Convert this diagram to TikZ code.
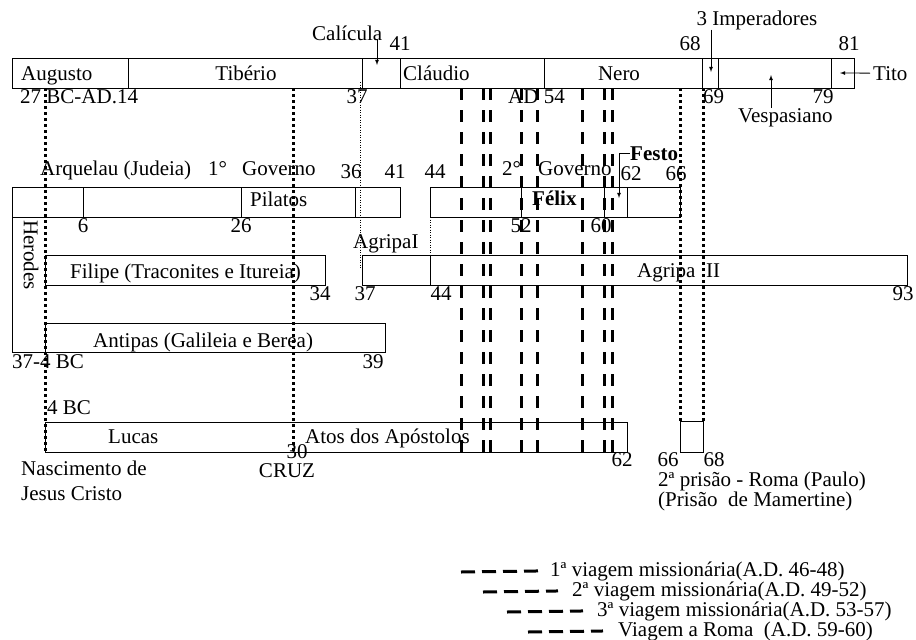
\documentclass[tikz,border=0pt]{standalone}
\usepackage{fontspec}
\setmainfont{Liberation Serif}
\begin{document}
\begin{tikzpicture}[x=1pt,y=-1pt,font=\fontsize{21}{25}\selectfont,
  every node/.style={inner sep=0pt},
  lbl/.style={anchor=base},
  lft/.style={anchor=base west},
  bar/.style={draw,line width=0.8pt},
  thickdots/.style={line width=3pt,dash pattern=on 3pt off 3pt},
  thindots/.style={line width=1pt,dash pattern=on 1pt off 1.5pt},
  trip/.style={line width=3pt,dash pattern=on 12pt off 10pt},
  legdash/.style={line width=3pt,dash pattern=on 14pt off 7pt},
  arr/.style={-latex,line width=0.8pt}]
  \useasboundingbox (0,0) rectangle (916,640);

  \draw[bar] (12,58) rectangle (854,88);
  \draw[bar] (128,58) -- (128,88);
  \draw[bar] (362,58) -- (362,88);
  \draw[bar] (400,58) -- (400,88);
  \draw[bar] (544,58) -- (544,88);
  \draw[bar] (702,58) -- (702,88);
  \draw[bar] (718,58) -- (718,88);
  \draw[bar] (831,58) -- (831,88);

  \draw[bar] (12,187) rectangle (400,217);
  \draw[bar] (83,187) -- (83,217);
  \draw[bar] (241,187) -- (241,217);
  \draw[bar] (355,187) -- (355,217);
  \draw[bar] (12,217) -- (12,352) -- (45,352);
  \draw[bar] (430,187) rectangle (680,217);
  \draw[bar] (521,187) -- (521,217);
  \draw[bar] (604,187) -- (604,217);
  \draw[bar] (627,187) -- (627,217);
  \draw[bar] (45,255) rectangle (325,285);
  \draw[bar] (362,255) rectangle (907,285);
  \draw[bar] (430,255) -- (430,285);
  \draw[bar] (45,323) rectangle (385,352);
  \draw[bar] (45,422) rectangle (627,452);
  \draw[bar] (680,421) rectangle (703,452);

  \node[lft] (calicula) at (312,40) {Calícula};
  \node[lbl] (yr41a) at (400,50) {41};
  \node[lft] (augusto) at (21,80) {Augusto};
  \node[lbl] (tiberio) at (246,80) {Tibério};
  \node[lft] (claudio) at (403,80) {Cláudio};
  \node[lbl] (nero) at (619,80) {Nero};
  \node[lbl] (imperadores) at (757,25) {3 Imperadores};
  \node[lbl] (yr68a) at (690,50) {68};
  \node[lbl] (yr81) at (849,50) {81};
  \node[lft] (tito) at (873,80) {Tito};
  \node[lft] (augdates) at (20,103) {27 BC-AD.14};
  \node[lbl] (yr37a) at (357,103) {37};
  \node[lft] (ad54) at (508,103) {AD 54};
  \node[lft] (yr69) at (703,103) {69};
  \node[lbl] (yr79) at (823,103) {79};
  \node[lft] (vespasiano) at (738,122) {Vespasiano};

  \coordinate (caliculaTip) at (377,65);
  \coordinate (imperadoresTip) at (711,72);
  \coordinate (titoTip) at (840,73);
  \coordinate (vespasianoTip) at (771,75);
  \draw[arr] (caliculaTip |- calicula.base) -- (caliculaTip);
  \draw[arr] (imperadoresTip |- imperadores.south) -- (imperadoresTip);
  \draw[arr] ([xshift=-3pt]tito.west) -- (titoTip);
  \draw[arr] (vespasianoTip |- vespasiano.north) -- (vespasianoTip);

  \node[lft] (arquelau) at (40,175) {Arquelau (Judeia)};
  \node[lft] (gov1) at (208,175) {1°};
  \node[lft] (governo1) at (242,175) {Governo};
  \node[lbl] (yr36) at (351,178) {36};
  \node[lbl] (yr41b) at (395,178) {41};
  \node[lbl] (yr44a) at (435,178) {44};
  \node[lft] (gov2) at (502,175) {2°};
  \node[lft] (governo2) at (538,175) {Governo};
  \node[lft] (festo) at (630,160) {\textbf{Festo}};
  \node[lbl] (yr62a) at (631,180) {62};
  \node[lbl] (yr66a) at (676,180) {66};
  \node[lft] (pilatos) at (250,206) {Pilatos};
  \node[lft] (felix) at (532,205) {\textbf{Félix}};
  \node[lbl] (yr6) at (83,232) {6};
  \node[lbl] (yr26) at (241,232) {26};
  \node[lbl] (yr52) at (521,232) {52};
  \node[lbl] (yr60) at (601,232) {60};

  \coordinate (festoTip) at (619,198);
  \draw[arr] (festo.west) -| (festoTip);

  \node[lft] (agripa1) at (353,248) {AgripaI};
  \node[rotate=-90] (herodes) at (31,255) {Herodes};
  \node[lft] (filipe) at (70,278) {Filipe (Traconites e Itureia)};
  \node[lft] (agripa2) at (637,277) {Agripa\ \ II};
  \node[lbl] (yr34) at (320,300) {34};
  \node[lbl] (yr37b) at (365,300) {37};
  \node[lbl] (yr44b) at (441,300) {44};
  \node[lbl] (yr93) at (903,300) {93};
  \node[lft] (antipas) at (93,347) {Antipas (Galileia e Berea)};
  \node[lft] (herdates) at (12,368) {37-4 BC};
  \node[lbl] (yr39) at (373,368) {39};
  \node[lft] (bc4) at (47,414) {4 BC};
  \node[lft] (lucas) at (108,443) {Lucas};
  \node[lft] (atos) at (305,443) {Atos dos Apóstolos};
  \node[lbl] (yr30) at (297,458) {30};
  \node[lbl] (cruz) at (287,477) {CRUZ};
  \node[lft] (nascimento) at (21,475) {Nascimento de};
  \node[lft] (jesus) at (21,500) {Jesus Cristo};
  \node[lbl] (yr62b) at (622,466) {62};
  \node[lbl] (yr66b) at (668,466) {66};
  \node[lbl] (yr68b) at (714,466) {68};
  \node[lft] (prisao) at (658,486) {2ª prisão - Roma (Paulo)};
  \node[lft] (mamertine) at (658,506) {(Prisão\ \ de Mamertine)};

  \draw[thickdots] (45,88) -- (45,452);
  \draw[thickdots] (293,88) -- (293,452);
  \draw[thickdots] (680,88) -- (680,421);
  \draw[thickdots] (703,88) -- (703,421);
  \draw[thindots] (360.5,82) -- (360.5,268);
  \draw[thindots] (430,217) -- (430,270);

  \draw[trip] (461,88) -- (461,452);
  \draw[trip] (483,88) -- (483,452);
  \draw[trip] (490,88) -- (490,452);
  \draw[trip] (521,88) -- (521,452);
  \draw[trip] (537,88) -- (537,452);
  \draw[trip] (582,88) -- (582,452);
  \draw[trip] (604,88) -- (604,452);
  \draw[trip] (612,88) -- (612,452);

  \node[lft] (trip1) at (550,576) {1ª viagem missionária(A.D. 46-48)};
  \node[lft] (trip2) at (572,596) {2ª viagem missionária(A.D. 49-52)};
  \node[lft] (trip3) at (597,616) {3ª viagem missionária(A.D. 53-57)};
  \node[lft] (trip4) at (618,636) {Viagem a Roma\ \ (A.D. 59-60)};
  \coordinate (trip1a) at (461,572);
  \coordinate (trip2a) at (483,592);
  \coordinate (trip3a) at (507,612);
  \coordinate (trip4a) at (528,632);
  \draw[legdash] (trip1a) -- ([xshift=-12pt]trip1.west);
  \draw[legdash] (trip2a) -- ([xshift=-14pt]trip2.west);
  \draw[legdash] (trip3a) -- ([xshift=-14pt]trip3.west);
  \draw[legdash] (trip4a) -- ([xshift=-15pt]trip4.west);
\end{tikzpicture}
\end{document}
